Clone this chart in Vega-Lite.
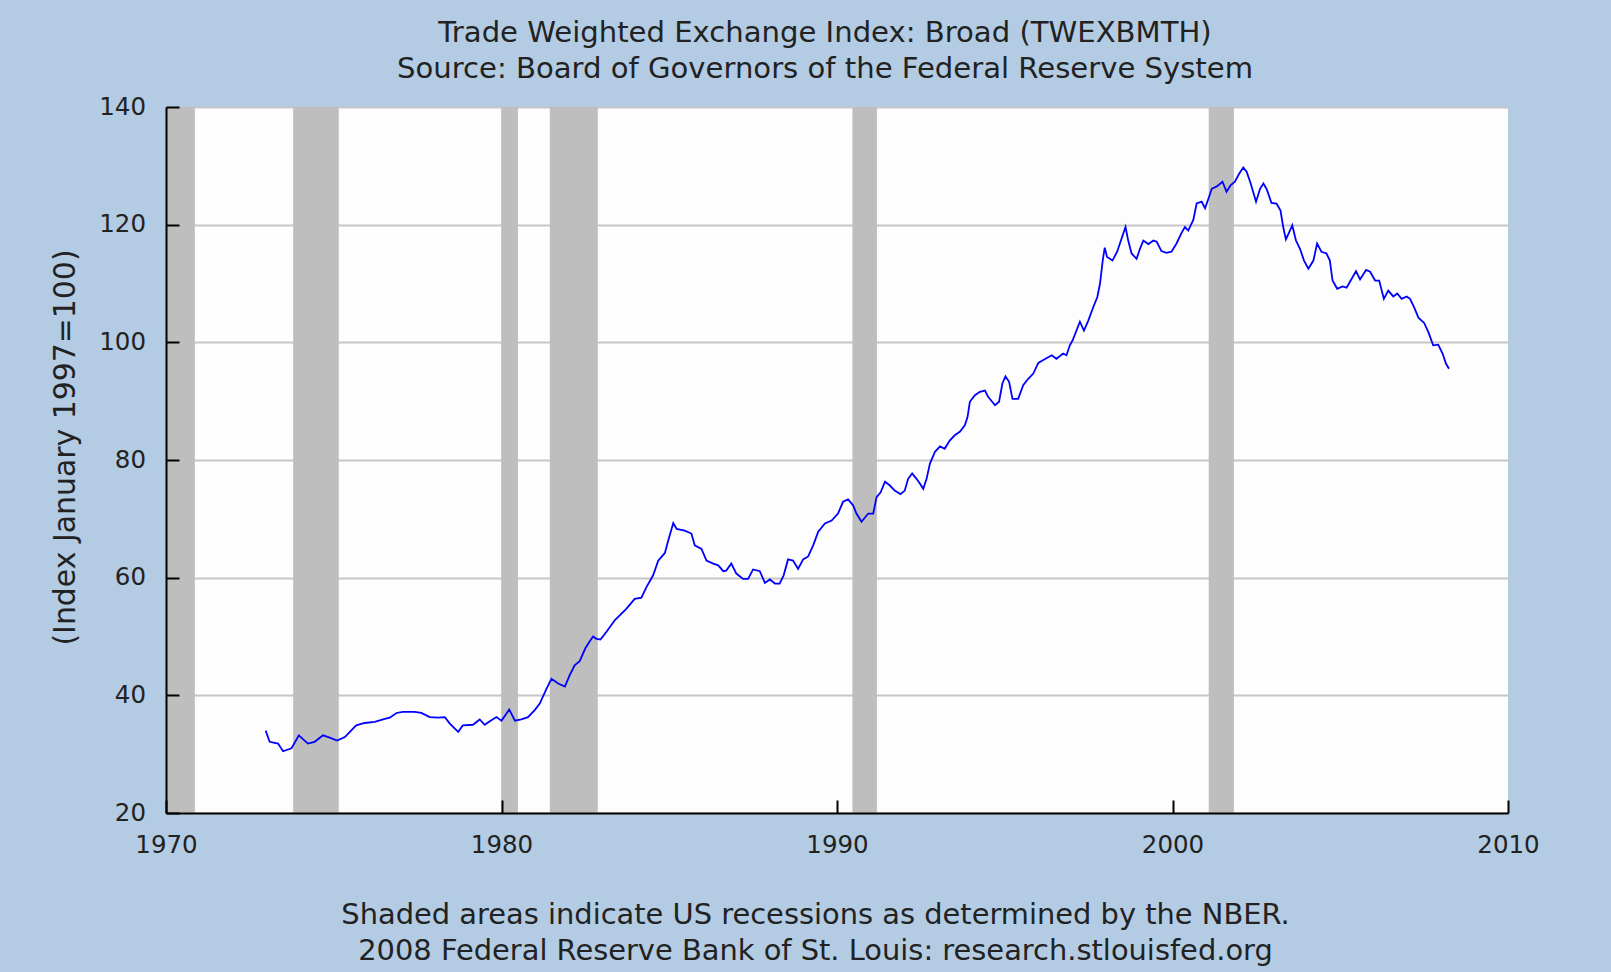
{
  "$schema": "https://vega.github.io/schema/vega-lite/v6.json",
  "width": 1342,
  "height": 706,
  "autosize": {"type": "none"},
  "padding": {"left": 166, "top": 107, "right": 103, "bottom": 159},
  "background": "#B3CCE4",
  "title": {
    "text": ["Trade Weighted Exchange Index: Broad (TWEXBMTH)", "Source: Board of Governors of the Federal Reserve System"],
    "font": "DejaVu Sans", "fontSize": 29.1, "fontWeight": "normal", "color": "#222222",
    "lineHeight": 36, "anchor": "middle", "frame": "group", "dx": -12, "offset": 10
  },
  "datasets": {
    "recessions": [
      {"start": 1969.92, "end": 1970.86},
      {"start": 1973.79, "end": 1975.15},
      {"start": 1979.99, "end": 1980.49},
      {"start": 1981.44, "end": 1982.87},
      {"start": 1990.46, "end": 1991.19},
      {"start": 2001.08, "end": 2001.83}
    ],
    "series": [
      {"year": 1972.97, "value": 34.0}, {"year": 1973.09, "value": 32.1}, {"year": 1973.34, "value": 31.8},
      {"year": 1973.49, "value": 30.5}, {"year": 1973.74, "value": 31.0}, {"year": 1973.96, "value": 33.2},
      {"year": 1974.23, "value": 31.8}, {"year": 1974.43, "value": 32.1}, {"year": 1974.68, "value": 33.2},
      {"year": 1974.88, "value": 32.8}, {"year": 1975.10, "value": 32.3}, {"year": 1975.33, "value": 32.9},
      {"year": 1975.48, "value": 33.8}, {"year": 1975.67, "value": 34.9}, {"year": 1975.92, "value": 35.3},
      {"year": 1976.22, "value": 35.5}, {"year": 1976.52, "value": 36.0}, {"year": 1976.67, "value": 36.2},
      {"year": 1976.87, "value": 37.0}, {"year": 1977.06, "value": 37.2}, {"year": 1977.41, "value": 37.2},
      {"year": 1977.61, "value": 37.0}, {"year": 1977.86, "value": 36.3}, {"year": 1978.11, "value": 36.2},
      {"year": 1978.31, "value": 36.3}, {"year": 1978.46, "value": 35.2}, {"year": 1978.58, "value": 34.5},
      {"year": 1978.71, "value": 33.8}, {"year": 1978.85, "value": 34.9}, {"year": 1979.15, "value": 35.0},
      {"year": 1979.35, "value": 35.9}, {"year": 1979.50, "value": 35.0}, {"year": 1979.65, "value": 35.6},
      {"year": 1979.85, "value": 36.3}, {"year": 1980.00, "value": 35.7}, {"year": 1980.15, "value": 36.9},
      {"year": 1980.23, "value": 37.6}, {"year": 1980.40, "value": 35.7}, {"year": 1980.59, "value": 35.9},
      {"year": 1980.79, "value": 36.3}, {"year": 1980.99, "value": 37.5}, {"year": 1981.14, "value": 38.6},
      {"year": 1981.34, "value": 41.1}, {"year": 1981.49, "value": 42.8}, {"year": 1981.69, "value": 42.0},
      {"year": 1981.89, "value": 41.5}, {"year": 1982.03, "value": 43.4}, {"year": 1982.18, "value": 45.1},
      {"year": 1982.33, "value": 45.8}, {"year": 1982.50, "value": 48.0}, {"year": 1982.63, "value": 49.2},
      {"year": 1982.73, "value": 50.0}, {"year": 1982.83, "value": 49.6}, {"year": 1982.95, "value": 49.5},
      {"year": 1983.13, "value": 50.8}, {"year": 1983.38, "value": 52.8}, {"year": 1983.72, "value": 54.7},
      {"year": 1983.97, "value": 56.4}, {"year": 1984.17, "value": 56.6}, {"year": 1984.32, "value": 58.4},
      {"year": 1984.52, "value": 60.4}, {"year": 1984.67, "value": 62.9}, {"year": 1984.87, "value": 64.2},
      {"year": 1984.97, "value": 66.3}, {"year": 1985.12, "value": 69.3}, {"year": 1985.22, "value": 68.3},
      {"year": 1985.46, "value": 68.0}, {"year": 1985.66, "value": 67.5}, {"year": 1985.76, "value": 65.5},
      {"year": 1985.96, "value": 64.9}, {"year": 1986.11, "value": 62.9}, {"year": 1986.31, "value": 62.4},
      {"year": 1986.46, "value": 62.1}, {"year": 1986.61, "value": 61.1}, {"year": 1986.70, "value": 61.2},
      {"year": 1986.85, "value": 62.4}, {"year": 1987.00, "value": 60.7}, {"year": 1987.20, "value": 59.8},
      {"year": 1987.35, "value": 59.8}, {"year": 1987.50, "value": 61.4}, {"year": 1987.70, "value": 61.1},
      {"year": 1987.85, "value": 59.1}, {"year": 1988.00, "value": 59.7}, {"year": 1988.15, "value": 59.0},
      {"year": 1988.29, "value": 59.0}, {"year": 1988.41, "value": 60.4}, {"year": 1988.54, "value": 63.1},
      {"year": 1988.69, "value": 62.9}, {"year": 1988.84, "value": 61.5}, {"year": 1988.99, "value": 63.1},
      {"year": 1989.14, "value": 63.6}, {"year": 1989.29, "value": 65.5}, {"year": 1989.44, "value": 67.8},
      {"year": 1989.64, "value": 69.2}, {"year": 1989.84, "value": 69.7}, {"year": 1990.03, "value": 70.9},
      {"year": 1990.18, "value": 72.9}, {"year": 1990.33, "value": 73.3}, {"year": 1990.48, "value": 72.3},
      {"year": 1990.58, "value": 70.9}, {"year": 1990.73, "value": 69.5}, {"year": 1990.93, "value": 70.9},
      {"year": 1991.08, "value": 70.9}, {"year": 1991.18, "value": 73.7}, {"year": 1991.30, "value": 74.5},
      {"year": 1991.43, "value": 76.3}, {"year": 1991.57, "value": 75.7}, {"year": 1991.72, "value": 74.8},
      {"year": 1991.89, "value": 74.2}, {"year": 1992.02, "value": 74.8}, {"year": 1992.12, "value": 76.8},
      {"year": 1992.24, "value": 77.7}, {"year": 1992.37, "value": 76.8}, {"year": 1992.47, "value": 76.0},
      {"year": 1992.57, "value": 75.1}, {"year": 1992.67, "value": 76.8}, {"year": 1992.77, "value": 79.4},
      {"year": 1992.92, "value": 81.4}, {"year": 1993.07, "value": 82.3}, {"year": 1993.21, "value": 81.9},
      {"year": 1993.36, "value": 83.3}, {"year": 1993.51, "value": 84.2}, {"year": 1993.66, "value": 84.8},
      {"year": 1993.81, "value": 85.9}, {"year": 1993.89, "value": 87.3}, {"year": 1993.96, "value": 89.9},
      {"year": 1994.11, "value": 91.0}, {"year": 1994.26, "value": 91.6}, {"year": 1994.41, "value": 91.8},
      {"year": 1994.51, "value": 90.7}, {"year": 1994.71, "value": 89.3}, {"year": 1994.83, "value": 89.9},
      {"year": 1994.93, "value": 93.0}, {"year": 1995.02, "value": 94.2}, {"year": 1995.13, "value": 93.3},
      {"year": 1995.23, "value": 90.4}, {"year": 1995.40, "value": 90.4}, {"year": 1995.55, "value": 92.7},
      {"year": 1995.70, "value": 93.8}, {"year": 1995.85, "value": 94.7}, {"year": 1996.00, "value": 96.5},
      {"year": 1996.15, "value": 97.0}, {"year": 1996.40, "value": 97.8}, {"year": 1996.54, "value": 97.2},
      {"year": 1996.74, "value": 98.1}, {"year": 1996.84, "value": 97.8}, {"year": 1996.94, "value": 99.5},
      {"year": 1997.02, "value": 100.3}, {"year": 1997.24, "value": 103.5}, {"year": 1997.36, "value": 102.0},
      {"year": 1997.49, "value": 103.7}, {"year": 1997.64, "value": 106.0}, {"year": 1997.76, "value": 107.7},
      {"year": 1997.84, "value": 110.0}, {"year": 1997.92, "value": 113.9}, {"year": 1997.98, "value": 116.1},
      {"year": 1998.05, "value": 114.5}, {"year": 1998.21, "value": 113.9}, {"year": 1998.35, "value": 115.4},
      {"year": 1998.48, "value": 117.6}, {"year": 1998.60, "value": 119.6}, {"year": 1998.68, "value": 117.3},
      {"year": 1998.78, "value": 115.1}, {"year": 1998.93, "value": 114.2}, {"year": 1999.03, "value": 115.9},
      {"year": 1999.13, "value": 117.3}, {"year": 1999.28, "value": 116.7}, {"year": 1999.43, "value": 117.3},
      {"year": 1999.53, "value": 117.1}, {"year": 1999.67, "value": 115.5}, {"year": 1999.82, "value": 115.2},
      {"year": 1999.97, "value": 115.4}, {"year": 2000.12, "value": 116.8}, {"year": 2000.27, "value": 118.6},
      {"year": 2000.37, "value": 119.6}, {"year": 2000.47, "value": 119.0}, {"year": 2000.62, "value": 120.8},
      {"year": 2000.72, "value": 123.6}, {"year": 2000.87, "value": 123.9}, {"year": 2000.97, "value": 122.8},
      {"year": 2001.07, "value": 124.4}, {"year": 2001.17, "value": 126.1}, {"year": 2001.32, "value": 126.5},
      {"year": 2001.49, "value": 127.3}, {"year": 2001.61, "value": 125.6}, {"year": 2001.73, "value": 126.7},
      {"year": 2001.86, "value": 127.3}, {"year": 2001.99, "value": 128.7}, {"year": 2002.11, "value": 129.7},
      {"year": 2002.21, "value": 129.0}, {"year": 2002.33, "value": 127.0}, {"year": 2002.49, "value": 123.9},
      {"year": 2002.61, "value": 126.1}, {"year": 2002.71, "value": 127.0}, {"year": 2002.81, "value": 126.0},
      {"year": 2002.95, "value": 123.7}, {"year": 2003.10, "value": 123.6}, {"year": 2003.22, "value": 122.4},
      {"year": 2003.30, "value": 119.6}, {"year": 2003.38, "value": 117.5}, {"year": 2003.50, "value": 119.0},
      {"year": 2003.57, "value": 119.9}, {"year": 2003.68, "value": 117.3}, {"year": 2003.80, "value": 115.9},
      {"year": 2003.92, "value": 113.9}, {"year": 2004.05, "value": 112.5}, {"year": 2004.20, "value": 113.9},
      {"year": 2004.31, "value": 116.8}, {"year": 2004.44, "value": 115.4}, {"year": 2004.59, "value": 115.1},
      {"year": 2004.69, "value": 113.9}, {"year": 2004.77, "value": 110.5}, {"year": 2004.91, "value": 109.1},
      {"year": 2005.07, "value": 109.5}, {"year": 2005.19, "value": 109.3}, {"year": 2005.34, "value": 110.8},
      {"year": 2005.47, "value": 112.1}, {"year": 2005.59, "value": 110.7}, {"year": 2005.77, "value": 112.3},
      {"year": 2005.89, "value": 112.0}, {"year": 2006.04, "value": 110.5}, {"year": 2006.16, "value": 110.5},
      {"year": 2006.30, "value": 107.4}, {"year": 2006.43, "value": 108.8}, {"year": 2006.58, "value": 107.8},
      {"year": 2006.70, "value": 108.3}, {"year": 2006.83, "value": 107.4}, {"year": 2006.98, "value": 107.8},
      {"year": 2007.08, "value": 107.4}, {"year": 2007.20, "value": 106.0}, {"year": 2007.33, "value": 104.2},
      {"year": 2007.50, "value": 103.3}, {"year": 2007.63, "value": 101.7}, {"year": 2007.77, "value": 99.5},
      {"year": 2007.92, "value": 99.6}, {"year": 2008.05, "value": 98.1}, {"year": 2008.15, "value": 96.4},
      {"year": 2008.24, "value": 95.5}
    ]
  },
  "layer": [
    {
      "data": {"name": "recessions"},
      "mark": {"type": "rect", "color": "#BEBEBE", "clip": true},
      "encoding": {
        "x": {"field": "start", "type": "quantitative", "scale": {"domain": [1970, 2010], "nice": false, "zero": false}},
        "x2": {"field": "end"}
      }
    },
    {
      "data": {"name": "series"},
      "mark": {"type": "point", "opacity": 0},
      "encoding": {
        "x": {"field": "year", "type": "quantitative", "scale": {"domain": [1970, 2010], "nice": false, "zero": false}},
        "y": {
          "field": "value", "type": "quantitative",
          "scale": {"domain": [20, 140], "nice": false, "zero": false},
          "axis": {"orient": "left", "grid": true, "gridColor": "#C6C6C6", "gridWidth": 2, "domain": false, "ticks": false, "labels": false, "title": null, "values": [20, 40, 60, 80, 100, 120, 140], "zindex": 0}
        }
      }
    },
    {
      "data": {"name": "series"},
      "mark": {"type": "line", "color": "#0000FF", "strokeWidth": 1.8},
      "encoding": {
        "x": {
          "field": "year", "type": "quantitative",
          "scale": {"domain": [1970, 2010], "nice": false, "zero": false},
          "axis": {
            "values": [1970, 1980, 1990, 2000, 2010], "format": "d", "grid": false,
            "domainColor": "#000000", "domainWidth": 2, "tickColor": "#000000", "tickWidth": 2, "tickSize": -13,
            "labelPadding": 33, "labelFont": "DejaVu Sans", "labelFontSize": 24.5, "labelColor": "#222222",
            "labelFlush": false, "labelOverlap": false,
            "title": ["Shaded areas indicate US recessions as determined by the NBER.", "2008 Federal Reserve Bank of St. Louis: research.stlouisfed.org"],
            "titleFont": "DejaVu Sans", "titleFontSize": 28.9, "titleFontWeight": "normal", "titleColor": "#222222",
            "titleLineHeight": 36, "titlePadding": 44, "titleX": 649, "zindex": 1
          }
        },
        "y": {
          "field": "value", "type": "quantitative",
          "scale": {"domain": [20, 140], "nice": false, "zero": false},
          "axis": {
            "orient": "left", "grid": false, "values": [20, 40, 60, 80, 100, 120, 140],
            "domainColor": "#000000", "domainWidth": 2, "tickColor": "#000000", "tickWidth": 2, "tickSize": -13,
            "labelPadding": 33.5, "labelFont": "DejaVu Sans", "labelFontSize": 24.5, "labelColor": "#222222",
            "title": "(Index January 1997=100)", "titleFont": "DejaVu Sans", "titleFontSize": 29.9,
            "titleFontWeight": "normal", "titleColor": "#222222", "titlePadding": 18, "titleY": 340, "zindex": 1
          }
        }
      }
    }
  ],
  "resolve": {"axis": {"y": "independent"}},
  "config": {
    "view": {"fill": "#FDFDFD", "stroke": null}
  }
}
